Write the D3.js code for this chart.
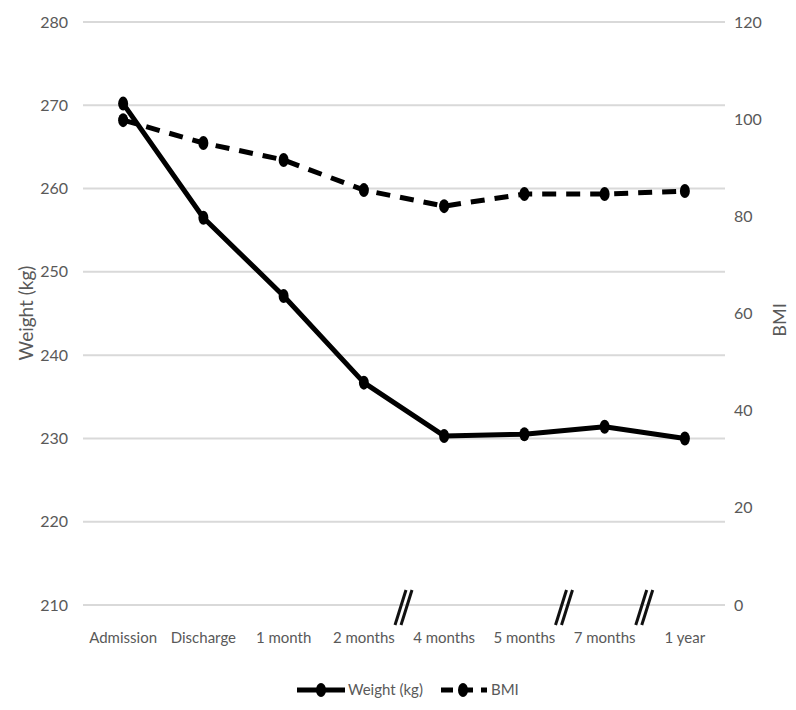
<!DOCTYPE html>
<html><head><meta charset="utf-8">
<script src="https://cdn.jsdelivr.net/npm/d3@7"></script>
<style>body{margin:0;background:#fff;} text{font-family:Lato,"Open Sans",sans-serif;fill:#595959;}</style>
</head><body><svg id="c" width="796" height="710"></svg>
<script>
const categories = ["Admission","Discharge","1 month","2 months","4 months","5 months","7 months","1 year"];
const weight = [270.2, 256.5, 247.1, 236.7, 230.3, 230.5, 231.4, 230.0];
const bmi = [99.8, 95.1, 91.6, 85.4, 82.1, 84.6, 84.6, 85.2];
const leftTicks = [210,220,230,240,250,260,270,280];
const rightTicks = [0,20,40,60,80,100,120];
const breaksAfter = ["2 months","5 months","7 months"];

const svg = d3.select("#c");
const L = 83, R = 725, T = 22, B = 605;
const x = d3.scaleBand().domain(categories).range([L, R]);
const yL = d3.scaleLinear().domain([210, 280]).range([B, T]);
const yR = d3.scaleLinear().domain([0, 120]).range([B, T]);

// gridlines
svg.append("g").selectAll("line").data(leftTicks).join("line")
  .attr("x1", L).attr("x2", R).attr("y1", d => yL(d)).attr("y2", d => yL(d))
  .attr("stroke", "#d9d9d9").attr("stroke-width", 2);

// left axis
const ga = svg.append("g").attr("transform", `translate(${L},0)`)
  .call(d3.axisLeft(yL).tickValues(leftTicks).tickSize(0).tickPadding(15));
ga.select(".domain").remove();
ga.selectAll("text").style("font-size", "16px").attr("fill", "#595959");

// right axis
const gr = svg.append("g").attr("transform", `translate(${R},0)`)
  .call(d3.axisRight(yR).tickValues(rightTicks).tickSize(0).tickPadding(9));
gr.select(".domain").remove();
gr.selectAll("text").style("font-size", "16px").attr("fill", "#595959");

// x axis labels
const gx = svg.append("g").attr("transform", `translate(0,${B})`)
  .call(d3.axisBottom(x).tickSize(0).tickPadding(27));
gx.select(".domain").remove();
gx.selectAll("text").style("font-size", "15px").attr("fill", "#595959");

// axis titles
svg.append("text").attr("transform", `translate(33,313) rotate(-90)`)
  .attr("text-anchor", "middle").style("font-size", "19px").text("Weight (kg)");
svg.append("text").attr("transform", `translate(786,320) rotate(-90)`)
  .attr("text-anchor", "middle").style("font-size", "18px").text("BMI");

// break marks
breaksAfter.forEach(c => {
  const bx = x(c) + x.bandwidth();
  [-3, 3].forEach(off => {
    svg.append("line").attr("x1", bx + off - 6).attr("y1", B + 20)
      .attr("x2", bx + off + 5).attr("y2", B - 15)
      .attr("stroke", "#111").attr("stroke-width", 3);
  });
});

const cx = d => x(d) + x.bandwidth() / 2;
// BMI line
svg.append("path").datum(bmi)
  .attr("d", d3.line().x((d, i) => cx(categories[i])).y(d => yR(d)))
  .attr("fill", "none").attr("stroke", "#000").attr("stroke-width", 5)
  .attr("stroke-dasharray", "14,10");
svg.append("g").selectAll("ellipse").data(bmi).join("ellipse")
  .attr("cx", (d, i) => cx(categories[i])).attr("cy", d => yR(d))
  .attr("rx", 5).attr("ry", 7).attr("fill", "#000");

// Weight line
svg.append("path").datum(weight)
  .attr("d", d3.line().x((d, i) => cx(categories[i])).y(d => yL(d)))
  .attr("fill", "none").attr("stroke", "#000").attr("stroke-width", 5)
  .attr("stroke-linejoin", "round");
svg.append("g").selectAll("ellipse").data(weight).join("ellipse")
  .attr("cx", (d, i) => cx(categories[i])).attr("cy", d => yL(d))
  .attr("rx", 5).attr("ry", 7).attr("fill", "#000");

// legend
const lg = svg.append("g").attr("transform", "translate(0,690)");
lg.append("line").attr("x1", 297).attr("x2", 345).attr("stroke", "#000").attr("stroke-width", 5);
lg.append("ellipse").attr("cx", 321).attr("rx", 5).attr("ry", 7).attr("fill", "#000");
lg.append("text").attr("x", 348).attr("dy", "0.35em").style("font-size", "15px").text("Weight (kg)");
lg.append("line").attr("x1", 441).attr("x2", 487).attr("stroke", "#000").attr("stroke-width", 5)
  .attr("stroke-dasharray", "12,8");
lg.append("ellipse").attr("cx", 463).attr("rx", 5).attr("ry", 7).attr("fill", "#000");
lg.append("text").attr("x", 491).attr("dy", "0.35em").style("font-size", "15px").text("BMI");
</script></body></html>
